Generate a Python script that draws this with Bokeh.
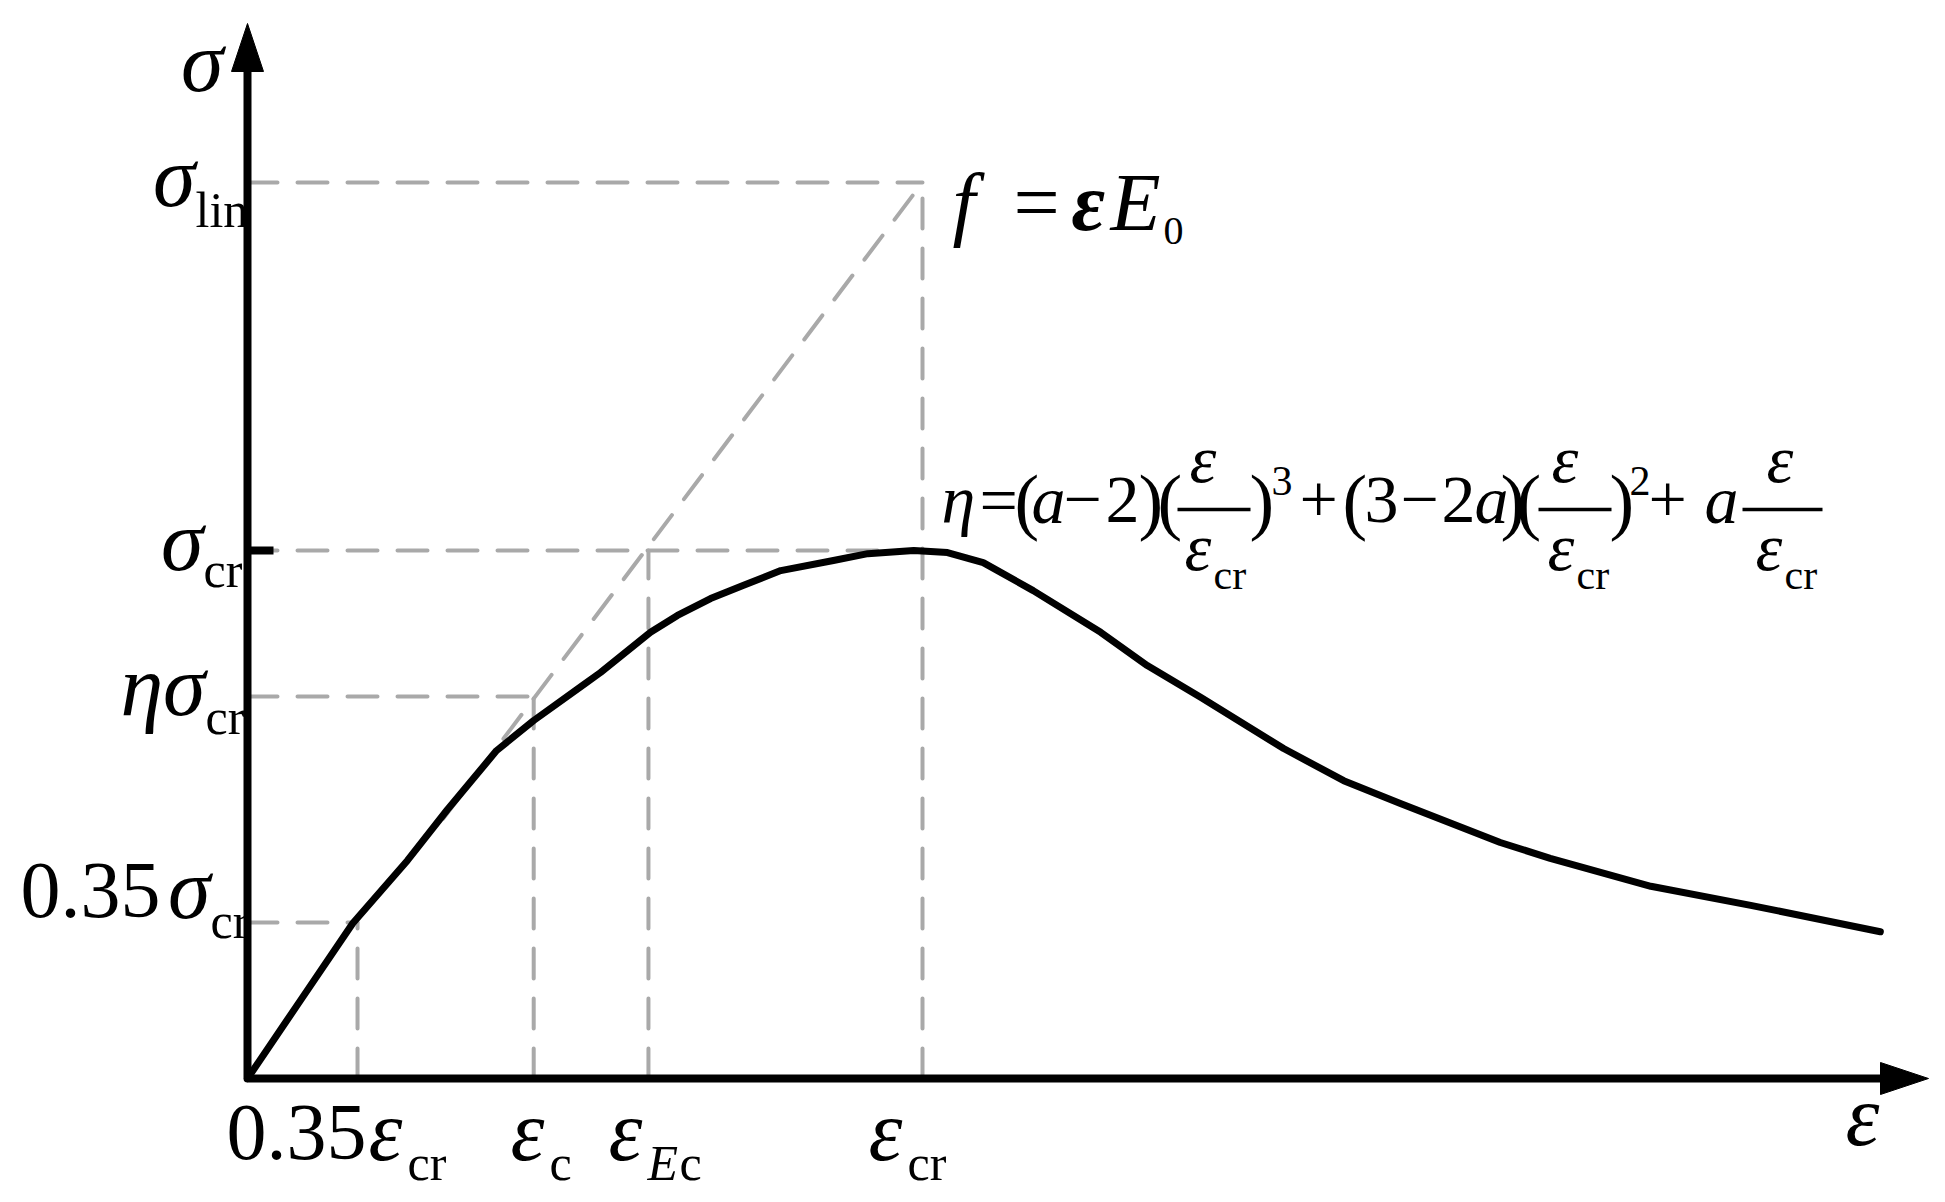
from bokeh.plotting import figure
from bokeh.models import Range1d, ColumnDataSource
from bokeh.core.properties import value
from bokeh.embed import file_html
from bokeh.resources import INLINE

# ---------------- data ----------------
# strain in units of eps_cr, stress in units of sigma_cr
curve_eps = [0.0, 0.0785, 0.156, 0.237, 0.296, 0.369, 0.424, 0.498, 0.523, 0.597,
             0.637, 0.686, 0.735, 0.790, 0.868, 0.919, 0.987, 1.037, 1.090, 1.164,
             1.264, 1.333, 1.412, 1.535, 1.624, 1.708, 1.856, 1.930, 2.079, 2.227, 2.419]
curve_sig = [0.0, 0.148, 0.294, 0.413, 0.509, 0.621, 0.678, 0.746, 0.769, 0.845,
             0.877, 0.909, 0.934, 0.962, 0.981, 0.994, 1.000, 0.996, 0.977, 0.924,
             0.845, 0.782, 0.722, 0.625, 0.564, 0.521, 0.447, 0.417, 0.364, 0.328, 0.278]

# marked strains: 0.35eps_cr, eps_c, eps_Ec, eps_cr
eps_marks = [0.163, 0.424, 0.594, 1.0]
# marked stresses: sigma_lin, sigma_cr, eta*sigma_cr, 0.35sigma_cr
sig_marks = [1.697, 1.0, 0.7235, 0.2955]
# vertical guide tops (stress reached at each marked strain)
v_tops = [sig_marks[3], sig_marks[2], sig_marks[1], sig_marks[0]]
# horizontal guide ends (strain reached at each marked stress)
h_ends = [eps_marks[3], eps_marks[3], eps_marks[1], eps_marks[0]]
# secant f = eps*E0 through the origin and (eps_cr, sigma_lin); visible from eps = 0.29
secant_from = 0.29
secant_slope = sig_marks[0] / eps_marks[3]
secant_eps = [secant_from, eps_marks[3]]
secant_sig = [secant_from * secant_slope, sig_marks[0]]

# ---------------- layout (screen pixels of the page) ----------------
W, H = 1945, 1202
X0, XS = 247.0, 675.0     # origin x, px per eps_cr
Y0, YS = 1078.0, 528.0    # origin y, px per sigma_cr
BASE_SHIFT = 0.37         # renderer places alphabetic baseline this many em too low


def dx(px):
    return (px - X0) / XS


def dy(py):
    return (Y0 - py) / YS


p = figure(width=W, height=H, output_backend="svg", toolbar_location=None,
           x_range=Range1d(dx(0), dx(W)), y_range=Range1d(dy(H), dy(0)),
           x_axis_location=None, y_axis_location=None, min_border=0)
p.grid.visible = False
p.outline_line_color = None
p.background_fill_color = "white"
p.border_fill_color = "white"

GRAY = "#a9a9a9"
DASH = "30 20"

# dashed guides
xs, ys = [], []
for s, e in zip(sig_marks, h_ends):
    xs.append([0.0, e]); ys.append([s, s])
for e, s in zip(eps_marks, v_tops):
    xs.append([e, e]); ys.append([0.0, s])
xs.append(secant_eps); ys.append(secant_sig)
p.multi_line(xs=xs, ys=ys, line_color=GRAY, line_width=4, line_dash=DASH, line_cap="round")

# small tick at sigma_cr
p.line([0.0, dx(273)], [sig_marks[1], sig_marks[1]], line_color="black", line_width=8)

# axes with arrows
y_tip, x_tip = dy(23), dx(1928)
head_len, head_half = 48, 16
p.line([0.0, 0.0, x_tip - head_len / XS], [y_tip - head_len / YS, 0.0, 0.0],
       line_color="black", line_width=8, line_join="round", line_cap="butt")
p.patch([-head_half / XS, 0.0, head_half / XS], [y_tip - head_len / YS, y_tip, y_tip - head_len / YS],
        fill_color="black", line_color="black", line_width=1)
p.patch([x_tip - head_len / XS, x_tip, x_tip - head_len / XS], [head_half / YS, 0.0, -head_half / YS],
        fill_color="black", line_color="black", line_width=1)

# curve
p.line(curve_eps, curve_sig, line_color="black", line_width=7, line_join="round", line_cap="round")

# fraction bars of the formula
bar_y = dy(509)
bars = [(1177, 1250), (1538, 1611), (1742, 1822)]
p.segment(x0=[dx(a) for a, b in bars], y0=[bar_y] * 3, x1=[dx(b) for a, b in bars], y1=[bar_y] * 3,
          line_color="black", line_width=3.5)

# ---------------- texts ----------------
G, M, S = 86, 80, 50   # greek, main, subscript sizes (px)
runs = [
    # y axis
    ("σ", 223, 93, G, "italic", "right"),
    ("σ", 195, 208, G, "italic", "right"), ("lin", 195, 228, S, "normal", "left"),
    ("σ", 203, 572, G, "italic", "right"), ("cr", 203, 588, S, "normal", "left"),
    ("ησ", 205, 717, G, "italic", "right"), ("cr", 205, 735, S, "normal", "left"),
    ("0.35", 160, 920, M, "normal", "right"), ("σ", 210, 920, G, "italic", "right"),
    ("cr", 210, 939, S, "normal", "left"),
    # x axis
    ("0.35", 366, 1162, M, "normal", "right"), ("ε", 368, 1162, G, "italic", "left"),
    ("cr", 407, 1181, S, "normal", "left"),
    ("ε", 510, 1162, G, "italic", "left"), ("c", 549, 1181, S, "normal", "left"),
    ("ε", 608, 1162, G, "italic", "left"), ("E", 647, 1181, S, "italic", "left"),
    ("c", 679, 1181, S, "normal", "left"),
    ("ε", 868, 1162, G, "italic", "left"), ("cr", 907, 1181, S, "normal", "left"),
    ("ε", 1845, 1147, G, "italic", "left"),
    # f = eps E0
    ("f", 952, 232, 82, "italic", "left"), ("=", 1013, 232, 82, "normal", "left"),
    ("ε", 1071, 232, 82, "bold italic", "left"), ("E", 1110, 232, 82, "italic", "left"),
    ("0", 1163, 245, 40, "normal", "left"),
]
F, FP, FS = 68, 74, 42
B, NUM, DEN, DSUB, SUP = 525, 484, 572, 590, 496
formula = [
    ("η", 941, B, F, "italic"), ("=", 979, B, F, "normal"), ("(", 1014, B + 3, FP, "normal"),
    ("a", 1031, B, F, "italic"), ("−", 1063, B, F, "normal"), ("2", 1105, B, F, "normal"),
    (")", 1138, B + 3, FP, "normal"), ("(", 1157, B + 3, FP, "normal"),
    ("ε", 1189, NUM, F, "italic"), ("ε", 1184, DEN, F, "italic"), ("cr", 1213, DSUB, FS, "normal"),
    (")", 1249, B + 3, FP, "normal"), ("3", 1271, SUP, FS, "normal"),
    ("+", 1299, B, F, "normal"), ("(", 1342, B + 3, FP, "normal"), ("3", 1364, B, F, "normal"),
    ("−", 1400, B, F, "normal"), ("2", 1441, B, F, "normal"), ("a", 1474, B, F, "italic"),
    (")", 1500, B + 3, FP, "normal"), ("(", 1516, B + 3, FP, "normal"),
    ("ε", 1551, NUM, F, "italic"), ("ε", 1547, DEN, F, "italic"), ("cr", 1576, DSUB, FS, "normal"),
    (")", 1609, B + 3, FP, "normal"), ("2", 1629, SUP, FS, "normal"),
    ("+", 1648, B, F, "normal"), ("a", 1704, B, F, "italic"),
    ("ε", 1766, NUM, F, "italic"), ("ε", 1755, DEN, F, "italic"), ("cr", 1784, DSUB, FS, "normal"),
]
runs += [(t, x, y, s, st, "left") for (t, x, y, s, st) in formula]

src = ColumnDataSource(dict(
    x=[dx(r[1]) for r in runs],
    y=[dy(r[2] - BASE_SHIFT * r[3]) for r in runs],
    text=[r[0] for r in runs],
    size=["%dpx" % r[3] for r in runs],
    style=[r[4] for r in runs],
    align=[r[5] for r in runs],
))
p.text(x="x", y="y", text="text", source=src, text_font=value("Liberation Serif"),
       text_font_size="size", text_font_style="style", text_align="align",
       text_baseline="alphabetic", text_color="black")

open("out.html", "w").write(file_html(p, INLINE))
